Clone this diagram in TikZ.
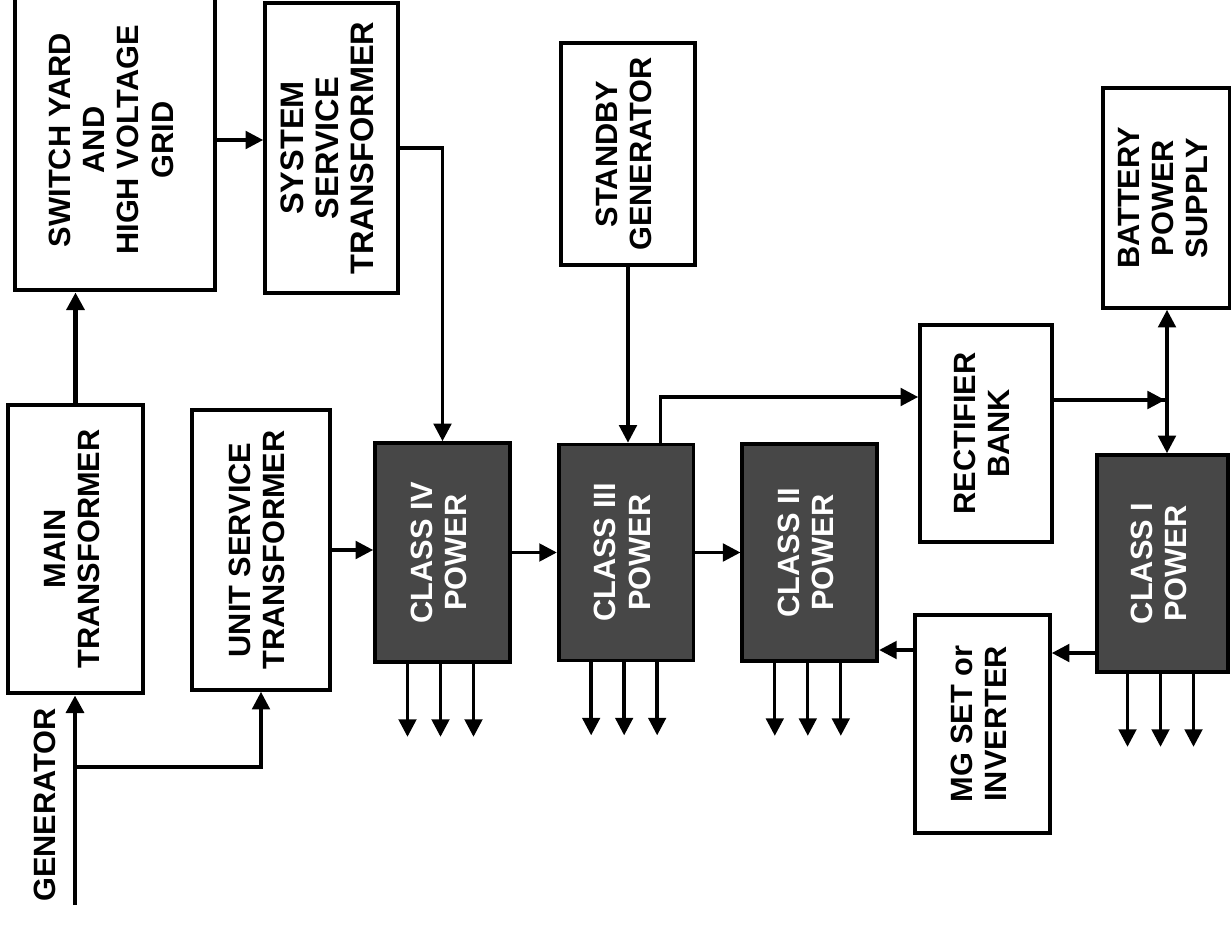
\documentclass[tikz,border=0pt]{standalone}
\usepackage{fontspec}
\setmainfont{Liberation Sans}
\usetikzlibrary{arrows.meta,positioning,calc}

\newcommand{\vlabel}[1]{\rotatebox{90}{\begin{tabular}{@{}c@{}}#1\end{tabular}}}

\begin{document}
\begin{tikzpicture}[
  x=0.02cm, y=-0.02cm,
  font=\fontsize{17.5}{19.5}\selectfont\bfseries,
  unitbox/.style={draw=black, line width=2.1pt, fill=white, inner sep=0pt, minimum width=2.7cm},
  heavybox/.style={unitbox, line width=2.8pt},
  classbox/.style={unitbox, fill=black!72, text=white, minimum height=4.34cm},
  conn/.style={line width=1.9pt, -{Triangle[length=10pt,width=10pt]}},
  feed/.style={conn, line width=2.7pt},
]
\useasboundingbox (0,0) rectangle (1231,933);

% Grid side
\node[heavybox, minimum width=4cm, minimum height=6cm] (yard) at (115,140) {\vlabel{SWITCH YARD\\AND\\HIGH VOLTAGE\\GRID}};
\node[unitbox, minimum width=2.66cm, minimum height=5.8cm, font=\fontsize{18.5}{20}\selectfont\bfseries] (sst) at (331.5,148) {\vlabel{SYSTEM\\SERVICE\\TRANSFORMER}};
\node[heavybox, minimum height=5.76cm] (mt) at (75.5,549) {\vlabel{MAIN\\TRANSFORMER}};
\node[unitbox, minimum width=2.76cm, minimum height=5.6cm] (ust) at (261,550) {\vlabel{UNIT SERVICE\\TRANSFORMER}};
\node[rotate=90] (genlabel) at (45,805) {GENERATOR};

% Power classes
\node[classbox, minimum height=4.38cm] (c4) at (442.5,552.5) {\vlabel{CLASS IV\\POWER}};
\node[classbox, minimum height=4.32cm, right=0.9cm of c4] (c3) {\vlabel{CLASS III\\POWER}};
\node[classbox, right=0.9cm of c3] (c2) {\vlabel{CLASS II\\POWER}};
\node[classbox, minimum width=2.62cm] (c1) at (1162.5,563.5) {\vlabel{CLASS I\\POWER}};

% Backup supplies
\node[unitbox, minimum width=2.68cm, minimum height=4.44cm] (standby) at (628,154) {\vlabel{STANDBY\\GENERATOR}};
\node[unitbox, minimum width=2.64cm, minimum height=4.34cm] (rect) at (986,433.5) {\vlabel{RECTIFIER\\BANK}};
\node[unitbox, minimum width=2.54cm, minimum height=4.4cm] (bat) at (1166.5,198) {\vlabel{BATTERY\\POWER\\SUPPLY}};
\node[unitbox, minimum height=4.36cm] (mg) at (982.5,724) {\vlabel{MG SET or\\INVERTER}};

\coordinate (gen) at (75,905);
\coordinate (tap) at (75,767);
\coordinate (jct) at (1167,400);
\coordinate (c3up) at ($(c3.north)+(34.5,0)$);
\coordinate (rectin) at ($(rect.west)+(0,-36.5)$);
\coordinate (rectout) at ($(rect.east)+(0,-33.5)$);
\coordinate (c1out) at ($(c1.west)+(0,89.5)$);
\coordinate (mgout) at ($(mg.west)+(0,-74)$);

% Connections
\draw[feed] (gen) -- (gen |- mt.south);
\draw[conn] (tap) -| (ust.south);
\draw[feed] (mt.north) -- (mt.north |- yard.south);
\draw[conn] (yard.east) -- (yard.east -| sst.west);
\draw[conn] (sst.east) -| (c4.north);
\draw[conn] (ust.east) -- (ust.east -| c4.west);
\draw[conn] (c4.east) -- (c4.east -| c3.west);
\draw[conn] (c3.east) -- (c3.east -| c2.west);
\draw[conn] (standby.south) -- (standby.south |- c3.north);
\draw[conn] (c3up) |- (rectin);
\draw[line width=1.9pt] (rectout) -- (jct);
\draw[conn] (rectout) -- ($(jct)+(-2,0)$);
\draw[conn] (jct) -- (jct |- bat.south);
\draw[conn] (jct) -- (jct |- c1.north);
\draw[conn] (c1out) -- (c1out -| mg.east);
\draw[conn] (mgout) -- (mgout -| c2.east);
\foreach \c in {c4,c3,c2,c1}
  \foreach \d in {-35,-2,31}
    \draw[conn] ($(\c.south)+(\d,0)$) -- ++(0,73);
\end{tikzpicture}
\end{document}
